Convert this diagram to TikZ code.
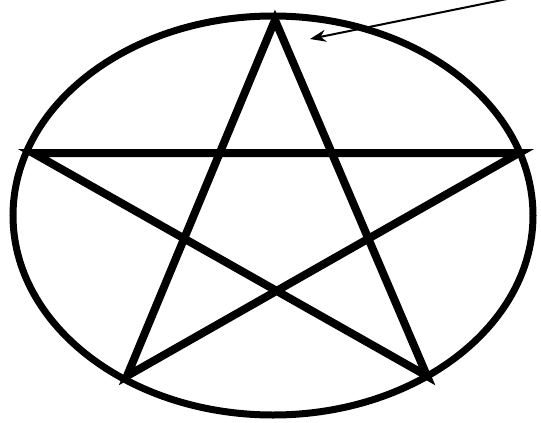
\documentclass[tikz,border=0pt]{standalone}
\usetikzlibrary{arrows.meta}
\begin{document}
\begin{tikzpicture}[x=1pt,y=-1pt,
  ring/.style={line width=7pt},
  starline/.style={line width=8pt,line join=miter,miter limit=4},
  pointer/.style={line width=2pt,-{Stealth[length=16pt,width=12pt]}}]
\useasboundingbox (0,0) rectangle (541,423);
\draw[ring] (273,215.5) ellipse [x radius=260, y radius=199.5];
\coordinate (T) at (275,20);
\coordinate (L) at (33,153);
\coordinate (R) at (519,153);
\coordinate (BL) at (127,376);
\coordinate (BR) at (427,376);
\draw[starline] (T) -- (BL) -- (R) -- (L) -- (BR) -- cycle;
\coordinate (tail) at (507,-1);
\coordinate (tip) at (310,39);
\draw[pointer] (tail) -- (tip);
\end{tikzpicture}
\end{document}
